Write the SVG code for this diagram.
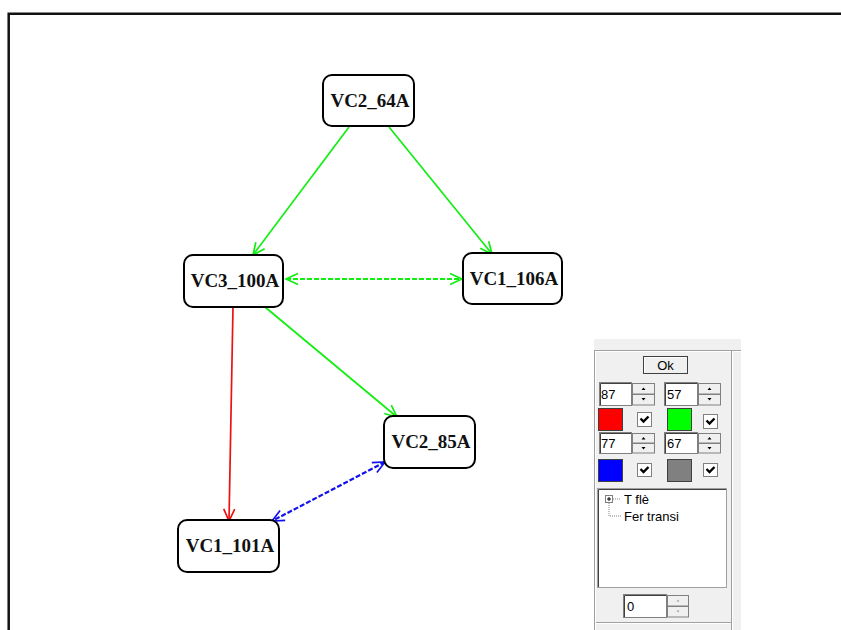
<svg xmlns="http://www.w3.org/2000/svg" width="841" height="630" viewBox="0 0 841 630">
<style>
.node rect{fill:#fff;stroke:#000;stroke-width:2}
.node text{font-family:"Liberation Serif",serif;font-weight:bold;font-size:19px;text-anchor:middle;fill:#111}
.e{fill:none;stroke-width:1.7}
.g{stroke:#11ee11}
.r{stroke:#ee1111}
.b{stroke:#1111ee}
.d{stroke-dasharray:5,2;stroke-width:2.2}
.ui{font-family:"Liberation Sans",Arial,sans-serif;font-size:13px;fill:#000}
.edit{fill:#fff}
.btn{fill:#f0f0f0;stroke:#808080;stroke-width:1}
.chk{fill:#fff;stroke:#808080;stroke-width:1}
</style>
<defs>
<marker id="ag" viewBox="-14 -7 16 14" refX="0" refY="0" markerWidth="16" markerHeight="14" markerUnits="userSpaceOnUse" orient="auto-start-reverse"><path d="M-12,-5.5 L0,0 L-12,5.5" fill="none" stroke="#11ee11" stroke-width="1.7"/></marker>
<marker id="ar" viewBox="-14 -7 16 14" refX="0" refY="0" markerWidth="16" markerHeight="14" markerUnits="userSpaceOnUse" orient="auto-start-reverse"><path d="M-12,-5.5 L0,0 L-12,5.5" fill="none" stroke="#ee1111" stroke-width="1.7"/></marker>
<marker id="ab" viewBox="-14 -7 16 14" refX="0" refY="0" markerWidth="16" markerHeight="14" markerUnits="userSpaceOnUse" orient="auto-start-reverse"><path d="M-12,-5.5 L0,0 L-12,5.5" fill="none" stroke="#1111ee" stroke-width="1.7"/></marker>
</defs>
<rect x="0" y="0" width="841" height="630" fill="#fff"/>
<path d="M8.7,630 V13.8 H841" fill="none" stroke="#111" stroke-width="2.5"/>

<g id="connectors">
<line class="e g" x1="349" y1="127" x2="253" y2="255" marker-end="url(#ag)"/>
<line class="e g" x1="389" y1="127" x2="492" y2="254" marker-end="url(#ag)"/>
<line class="e g d" x1="286" y1="279" x2="462" y2="279" marker-start="url(#ag)" marker-end="url(#ag)"/>
<line class="e g" x1="265" y1="307" x2="397" y2="417" marker-end="url(#ag)"/>
<line class="e r" x1="233" y1="307" x2="229" y2="521" marker-end="url(#ar)"/>
<line class="e b d" x1="385" y1="462" x2="272" y2="521" marker-start="url(#ab)" marker-end="url(#ab)"/>
</g>

<g id="VC2_64A" class="node"><rect x="323" y="75" width="91" height="51" rx="9"/><text x="370" y="107">VC2_64A</text></g>
<g id="VC3_100A" class="node"><rect x="184" y="255" width="99" height="52" rx="9"/><text x="235" y="287">VC3_100A</text></g>
<g id="VC1_106A" class="node"><rect x="463" y="253" width="99" height="51" rx="9"/><text x="514" y="285">VC1_106A</text></g>
<g id="VC2_85A" class="node"><rect x="384" y="416" width="91" height="52" rx="9"/><text x="431" y="448">VC2_85A</text></g>
<g id="VC1_101A" class="node"><rect x="178" y="520" width="101" height="52" rx="9"/><text x="230" y="552">VC1_101A</text></g>

<g id="panel">
<rect x="594" y="339" width="147" height="291" fill="#f0f0f0"/>
<line x1="594" y1="350.5" x2="741" y2="350.5" stroke="#a0a0a0"/>
<line x1="594" y1="351.5" x2="741" y2="351.5" stroke="#fff"/>
<line x1="594.5" y1="351" x2="594.5" y2="630" stroke="#a0a0a0"/>
<line x1="595.5" y1="352" x2="595.5" y2="630" stroke="#fff"/>
<line x1="731.5" y1="351" x2="731.5" y2="630" stroke="#a0a0a0"/>
<line x1="732.5" y1="351" x2="732.5" y2="630" stroke="#fff"/>
<line x1="596" y1="622.5" x2="731" y2="622.5" stroke="#a0a0a0"/>
<line x1="596" y1="623.5" x2="731" y2="623.5" stroke="#fff"/>

<rect x="643.5" y="356.5" width="44" height="17" fill="#f0f0f0" stroke="#404040"/>
<path d="M644.5,372.5 V357.5 H686" fill="none" stroke="#fff"/>
<text class="ui" x="665.5" y="370" text-anchor="middle">Ok</text>

<g id="spin87">
<rect class="edit" x="599.5" y="382.5" width="32" height="23" stroke="#808080"/>
<path d="M600.5,405 V383.5 H631" fill="none" stroke="#404040"/>
<text class="ui" x="601" y="399">87</text>
<rect class="btn" x="632.5" y="383.5" width="22" height="10.5"/>
<rect class="btn" x="632.5" y="394.5" width="22" height="10.5"/>
<path d="M641.5,390 h4 l-2,-2.5 z M641.5,398 h4 l-2,2.5 z" fill="#000"/>
</g>
<g id="spin57">
<rect class="edit" x="664.5" y="382.5" width="33" height="23" stroke="#808080"/>
<path d="M665.5,405 V383.5 H697" fill="none" stroke="#404040"/>
<text class="ui" x="667" y="399">57</text>
<rect class="btn" x="698.5" y="383.5" width="22" height="10.5"/>
<rect class="btn" x="698.5" y="394.5" width="22" height="10.5"/>
<path d="M707.5,390 h4 l-2,-2.5 z M707.5,398 h4 l-2,2.5 z" fill="#000"/>
</g>
<rect x="598.5" y="408.5" width="24" height="22" fill="#ff0000" stroke="#404040"/>
<rect class="chk" x="637.5" y="412.5" width="14" height="14"/>
<path d="M640.5,418.5 l3,3 l5,-5" fill="none" stroke="#000" stroke-width="2.4"/>
<rect x="667.5" y="408.5" width="24" height="22" fill="#00ff00" stroke="#404040"/>
<rect class="chk" x="703.5" y="414.5" width="14" height="14"/>
<path d="M706.5,420.5 l3,3 l5,-5" fill="none" stroke="#000" stroke-width="2.4"/>

<g id="spin77">
<rect class="edit" x="599.5" y="432.5" width="32" height="21" stroke="#808080"/>
<path d="M600.5,453 V433.5 H631" fill="none" stroke="#404040"/>
<text class="ui" x="601" y="448">77</text>
<rect class="btn" x="632.5" y="433.5" width="22" height="9.5"/>
<rect class="btn" x="632.5" y="443.5" width="22" height="9.5"/>
<path d="M641.5,439.5 h4 l-2,-2.5 z M641.5,447 h4 l-2,2.5 z" fill="#000"/>
</g>
<g id="spin67">
<rect class="edit" x="664.5" y="432.5" width="33" height="21" stroke="#808080"/>
<path d="M665.5,453 V433.5 H697" fill="none" stroke="#404040"/>
<text class="ui" x="667" y="448">67</text>
<rect class="btn" x="698.5" y="433.5" width="22" height="9.5"/>
<rect class="btn" x="698.5" y="443.5" width="22" height="9.5"/>
<path d="M707.5,439.5 h4 l-2,-2.5 z M707.5,447 h4 l-2,2.5 z" fill="#000"/>
</g>
<rect x="598.5" y="459.5" width="24" height="22" fill="#0000ff" stroke="#404040"/>
<rect class="chk" x="637.5" y="463.5" width="14" height="13"/>
<path d="M640.5,469 l3,3 l5,-5" fill="none" stroke="#000" stroke-width="2.4"/>
<rect x="667.5" y="459.5" width="24" height="22" fill="#808080" stroke="#404040"/>
<rect class="chk" x="703.5" y="463.5" width="14" height="13"/>
<path d="M706.5,469 l3,3 l5,-5" fill="none" stroke="#000" stroke-width="2.4"/>

<g id="tree">
<rect x="597.5" y="488.5" width="129" height="99" fill="#fff" stroke="#a0a0a0"/>
<path d="M598.5,587 V489.5 H726" fill="none" stroke="#404040"/>
<rect x="605.5" y="495.5" width="7" height="7" fill="#fff" stroke="#808080"/>
<path d="M607,499 h4 M609,497 v4" stroke="#000"/>
<path d="M613,499 h8 M609,503 v13 h12" fill="none" stroke="#808080" stroke-dasharray="1,1"/>
<text class="ui" x="624" y="504">T flè</text>
<text class="ui" x="624" y="521">Fer transi</text>
</g>

<g id="spin0">
<rect class="edit" x="623.5" y="594.5" width="43" height="23" stroke="#808080"/>
<path d="M624.5,617 V595.5 H666" fill="none" stroke="#404040"/>
<text class="ui" x="627" y="611">0</text>
<rect class="btn" x="667.5" y="595.5" width="21" height="10.5" stroke="#c0c0c0"/>
<rect class="btn" x="667.5" y="606.5" width="21" height="10.5" stroke="#c0c0c0"/>
<path d="M676.5,601.5 h3 l-1.5,-2 z M676.5,610.5 h3 l-1.5,2 z" fill="#a0a0a0"/>
</g>
</g>
</svg>
